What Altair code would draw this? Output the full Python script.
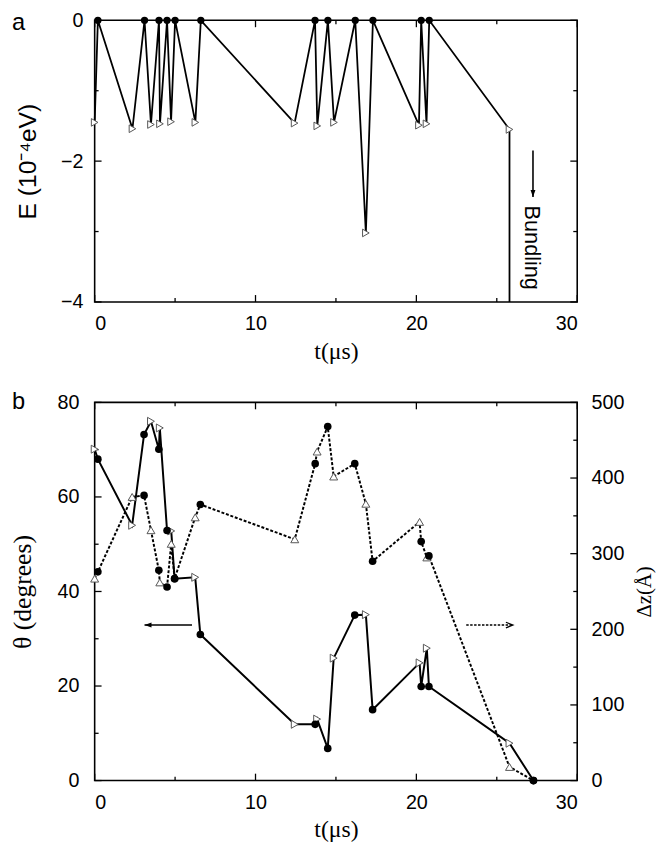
import altair as alt
import pandas as pd

SANS = "Liberation Sans"
SERIF = "Liberation Serif"

# ---------------- panel a data ----------------
a_time = [0, 0.2, 2.35, 3.1, 3.5, 4.0, 4.06, 4.5, 4.75, 5.0, 6.26, 6.6, 12.43,
          13.7, 13.84, 14.5, 14.88, 16.2, 16.86, 17.3, 20.16, 20.3, 20.63, 20.8, 25.79]
a_energy = [-1.45, 0, -1.54, 0, -1.48, 0, -1.47, 0, -1.44, 0, -1.45, 0, -1.46,
            0, -1.50, 0, -1.45, 0, -3.02, 0, -1.49, 0, -1.47, 0, -1.55]
a_marker = ["T", "C", "T", "C", "T", "C", "T", "C", "T", "C", "T", "C", "T",
            "C", "T", "C", "T", "C", "T", "C", "T", "C", "T", "C", "T"]
a_drop_time = [25.79]
a_drop_energy = [-4.0]

# arrow + label in panel a
a_arrow_time = [27.25]
a_arrow_energy = [-1.85, -2.51]
a_label_time = [27.2]
a_label_energy = [-3.23]
a_label_text = ["Bundling"]

# ---------------- panel b data ----------------
b_time = [0, 0.2, 2.33, 3.07, 3.5, 3.99, 4.05, 4.5, 4.76, 4.97, 6.25, 6.57, 12.44,
          13.71, 13.83, 14.49, 14.86, 16.17, 16.86, 17.28, 20.2, 20.3, 20.65, 20.78, 25.79, 27.28]
b_theta = [70.1, 68, 54, 73.2, 76, 70.1, 74.6, 52.9, 52.8, 42.7, 43, 30.9, 11.9,
           11.9, 13, 6.8, 25.9, 35, 35.1, 15, 24.9, 19.9, 28, 19.9, 7.9, 0]
b_dz = [267, 276, 375, 377, 331, 278, 262, 256, 313, 267, 348, 365, 319,
        419, 435, 468, 402, 419, 366, 290, 342, 316, 295, 297, 18, 0]
b_marker = ["T", "C", "T", "C", "T", "C", "T", "C", "T", "C", "T", "C", "T",
            "C", "T", "C", "T", "C", "T", "C", "T", "C", "T", "C", "T", "C"]

# arrows in panel b
b_left_arrow_time = [6.05, 3.1]
b_right_arrow_time = [23.1, 26.0]
b_arrow_theta = [32.9]

# tick values
x_major = [0, 10, 20, 30]
x_minor = [5, 15, 25]
a_y_major = [0, -2, -4]
a_y_minor = [-1, -3]
theta_major = [0, 20, 40, 60, 80]
theta_minor = [10, 30, 50, 70]
dz_major = [0, 100, 200, 300, 400, 500]
dz_minor = [50, 150, 250, 350, 450]

WA, HA = 490, 286
WB, HB = 490, 384
MAJ, MIN = 7, 4

xs = alt.Scale(domain=[0, 30], nice=False, zero=False)
ya_s = alt.Scale(domain=[-4, 0], nice=False, zero=False)
th_s = alt.Scale(domain=[0, 80], nice=False)
dz_s = alt.Scale(domain=[0, 500], nice=False)

X_AXIS = alt.Axis(values=x_major, format="d", title="t(μs)", labelFont=SANS,
                  labelFontSize=20, labelPadding=12, titleFont=SERIF,
                  titleFontSize=24, titleFontWeight="normal", titlePadding=6)
YA_AXIS = alt.Axis(values=a_y_major, title="E (10⁻⁴eV)", labelFont=SANS, labelFontSize=20,
                   labelPadding=12, titleFont=SANS, titleFontSize=25,
                   titleFontWeight="normal", titlePadding=20)
TH_AXIS = alt.Axis(values=theta_major, title="θ (degrees)", labelFont=SANS, labelFontSize=20,
                   labelPadding=16, titleFont=SERIF, titleFontSize=26,
                   titleFontWeight="normal", titlePadding=22)
DZ_AXIS = alt.Axis(values=dz_major, orient="right", title="Δz(Å)", labelFont=SANS,
                   labelFontSize=20, labelPadding=14, titleFont=SERIF, titleFontSize=21,
                   titleFontWeight="normal", titlePadding=10, titleAngle=270,
                   titleBaseline="top")

XE = alt.X("t:Q", scale=xs, axis=X_AXIS)


def x_tick_layers(vals, length, H):
    d = pd.DataFrame({"t": vals})
    base = alt.Chart(d).mark_rule(color="black", strokeWidth=1.3)
    return [base.encode(x=XE, y=alt.value(H), y2=alt.value(H - length)),
            base.encode(x=XE, y=alt.value(0), y2=alt.value(length))]


def y_tick_layers(vals, field, y_enc, length, W, left=True, right=True):
    d = pd.DataFrame({field: vals})
    base = alt.Chart(d).mark_rule(color="black", strokeWidth=1.3)
    out = []
    if left:
        out.append(base.encode(y=y_enc, x=alt.value(0), x2=alt.value(length)))
    if right:
        out.append(base.encode(y=y_enc, x=alt.value(W), x2=alt.value(W - length)))
    return out


# ---------------- panel a ----------------
df_a = pd.DataFrame({"t": a_time, "E": a_energy, "m": a_marker})
df_a["i"] = range(len(df_a))
df_a_line = pd.concat([df_a[["t", "E", "i"]],
                       pd.DataFrame({"t": a_drop_time, "E": a_drop_energy, "i": [len(df_a)]})])

YE = alt.Y("E:Q", scale=ya_s, axis=YA_AXIS)

a_line = alt.Chart(df_a_line).mark_line(color="black", strokeWidth=1.8).encode(
    x=XE, y=YE, order="i:Q")
a_tri = alt.Chart(df_a).transform_filter(alt.datum.m == "T").mark_point(
    shape="triangle-right", filled=True, fill="white", stroke="#555",
    strokeWidth=1, size=60, opacity=1).encode(x=XE, y=YE)
a_circ = alt.Chart(df_a).transform_filter(alt.datum.m == "C").mark_point(
    shape="circle", filled=True, color="black", size=55, opacity=1).encode(x=XE, y=YE)

a_arrow_shaft = alt.Chart(pd.DataFrame({"t": a_arrow_time, "E": [a_arrow_energy[0]],
                                        "E2": [a_arrow_energy[1]]})).mark_rule(
    color="black", strokeWidth=1.6).encode(x=XE, y=YE, y2="E2:Q")
a_arrow_head = alt.Chart(pd.DataFrame({"t": a_arrow_time, "E": [a_arrow_energy[1]]})).mark_point(
    shape="M-0.7,-2L0,0L0.7,-2Z", filled=True, color="black", size=50, opacity=1).encode(
    x=XE, y=YE)
a_label = alt.Chart(pd.DataFrame({"t": a_label_time, "E": a_label_energy,
                                  "s": a_label_text})).mark_text(
    angle=90, font=SANS, fontSize=22, color="black").encode(x=XE, y=YE, text="s:N")
a_panel_label = alt.Chart(pd.DataFrame({"s": ["a"]})).mark_text(
    font=SANS, fontSize=24, align="left", baseline="middle", color="black").encode(
    x=alt.value(-84), y=alt.value(3), text="s:N")

panel_a = alt.layer(
    a_line,
    *x_tick_layers(x_major, MAJ, HA), *x_tick_layers(x_minor, MIN, HA),
    *y_tick_layers(a_y_major, "E", YE, MAJ, WA),
    *y_tick_layers(a_y_minor, "E", YE, MIN, WA),
    a_tri, a_circ, a_arrow_shaft, a_arrow_head, a_label, a_panel_label
).properties(width=WA, height=HA)

# ---------------- panel b ----------------
df_b = pd.DataFrame({"t": b_time, "theta": b_theta, "dz": b_dz, "m": b_marker})
df_b["i"] = range(len(df_b))

Y_TH_MAIN = alt.Y("theta:Q", scale=th_s, axis=TH_AXIS)
Y_DZ_MAIN = alt.Y("dz:Q", scale=dz_s, axis=DZ_AXIS)
Y_TH = alt.Y("theta:Q", scale=th_s, axis=None)
Y_DZ = alt.Y("dz:Q", scale=dz_s, axis=None)

th_line = alt.Chart(df_b).mark_line(color="black", strokeWidth=2).encode(
    x=XE, y=Y_TH_MAIN, order="i:Q")
dz_line = alt.Chart(df_b).mark_line(color="black", strokeWidth=2, strokeDash=[3, 1.8]).encode(
    x=XE, y=Y_DZ_MAIN, order="i:Q")
th_tri = alt.Chart(df_b).transform_filter(alt.datum.m == "T").mark_point(
    shape="triangle-right", filled=True, fill="white", stroke="#555",
    strokeWidth=1, size=65, opacity=1).encode(x=XE, y=Y_TH)
dz_tri = alt.Chart(df_b).transform_filter(alt.datum.m == "T").mark_point(
    shape="triangle-up", filled=True, fill="white", stroke="#555",
    strokeWidth=1, size=65, opacity=1).encode(x=XE, y=Y_DZ)
th_circ = alt.Chart(df_b).transform_filter(alt.datum.m == "C").mark_point(
    shape="circle", filled=True, color="black", size=60, opacity=1).encode(x=XE, y=Y_TH)
dz_circ = alt.Chart(df_b).transform_filter(alt.datum.m == "C").mark_point(
    shape="circle", filled=True, color="black", size=60, opacity=1).encode(x=XE, y=Y_DZ)

left_arrow = alt.Chart(pd.DataFrame({"t": [b_left_arrow_time[0]], "t2": [b_left_arrow_time[1]],
                                     "theta": b_arrow_theta})).mark_rule(
    color="black", strokeWidth=1.6).encode(x=XE, x2="t2:Q", y=Y_TH)
left_head = alt.Chart(pd.DataFrame({"t": [b_left_arrow_time[1]], "theta": b_arrow_theta})).mark_point(
    shape="M2,-0.7L0,0L2,0.7Z", filled=True, color="black", size=50, opacity=1).encode(
    x=XE, y=Y_TH)
right_arrow = alt.Chart(pd.DataFrame({"t": [b_right_arrow_time[0]], "t2": [b_right_arrow_time[1]],
                                      "theta": b_arrow_theta})).mark_rule(
    color="black", strokeWidth=1.6, strokeDash=[2.5, 1.5]).encode(x=XE, x2="t2:Q", y=Y_TH)
right_head = alt.Chart(pd.DataFrame({"t": [b_right_arrow_time[1]], "theta": b_arrow_theta})).mark_point(
    shape="M-2,-0.8L0,0L-2,0.8", filled=False, color="black", strokeWidth=1.3,
    size=50, opacity=1).encode(x=XE, y=Y_TH)
b_panel_label = alt.Chart(pd.DataFrame({"s": ["b"]})).mark_text(
    font=SANS, fontSize=24, align="left", baseline="middle", color="black").encode(
    x=alt.value(-84), y=alt.value(0), text="s:N")

panel_b = alt.layer(
    th_line, dz_line,
    *x_tick_layers(x_major, MAJ, HB), *x_tick_layers(x_minor, MIN, HB),
    *y_tick_layers(theta_major, "theta", Y_TH, MAJ, WB, right=False),
    *y_tick_layers(theta_minor, "theta", Y_TH, MIN, WB, right=False),
    *y_tick_layers(dz_major, "dz", Y_DZ, MAJ, WB, left=False),
    *y_tick_layers(dz_minor, "dz", Y_DZ, MIN, WB, left=False),
    th_tri, dz_tri, th_circ, dz_circ,
    left_arrow, left_head, right_arrow, right_head, b_panel_label
).resolve_scale(y="independent").properties(width=WB, height=HB)

chart = alt.vconcat(panel_a, panel_b, spacing=26).properties(
    padding={"left": 0, "right": 0, "top": -5, "bottom": 0}
).configure_view(stroke="black", strokeWidth=1.6).configure_axis(
    grid=False, domain=False, ticks=False, tickSize=0, labelColor="black", titleColor="black")

chart.save("out.html", embed_options={"renderer": "svg", "actions": False})
